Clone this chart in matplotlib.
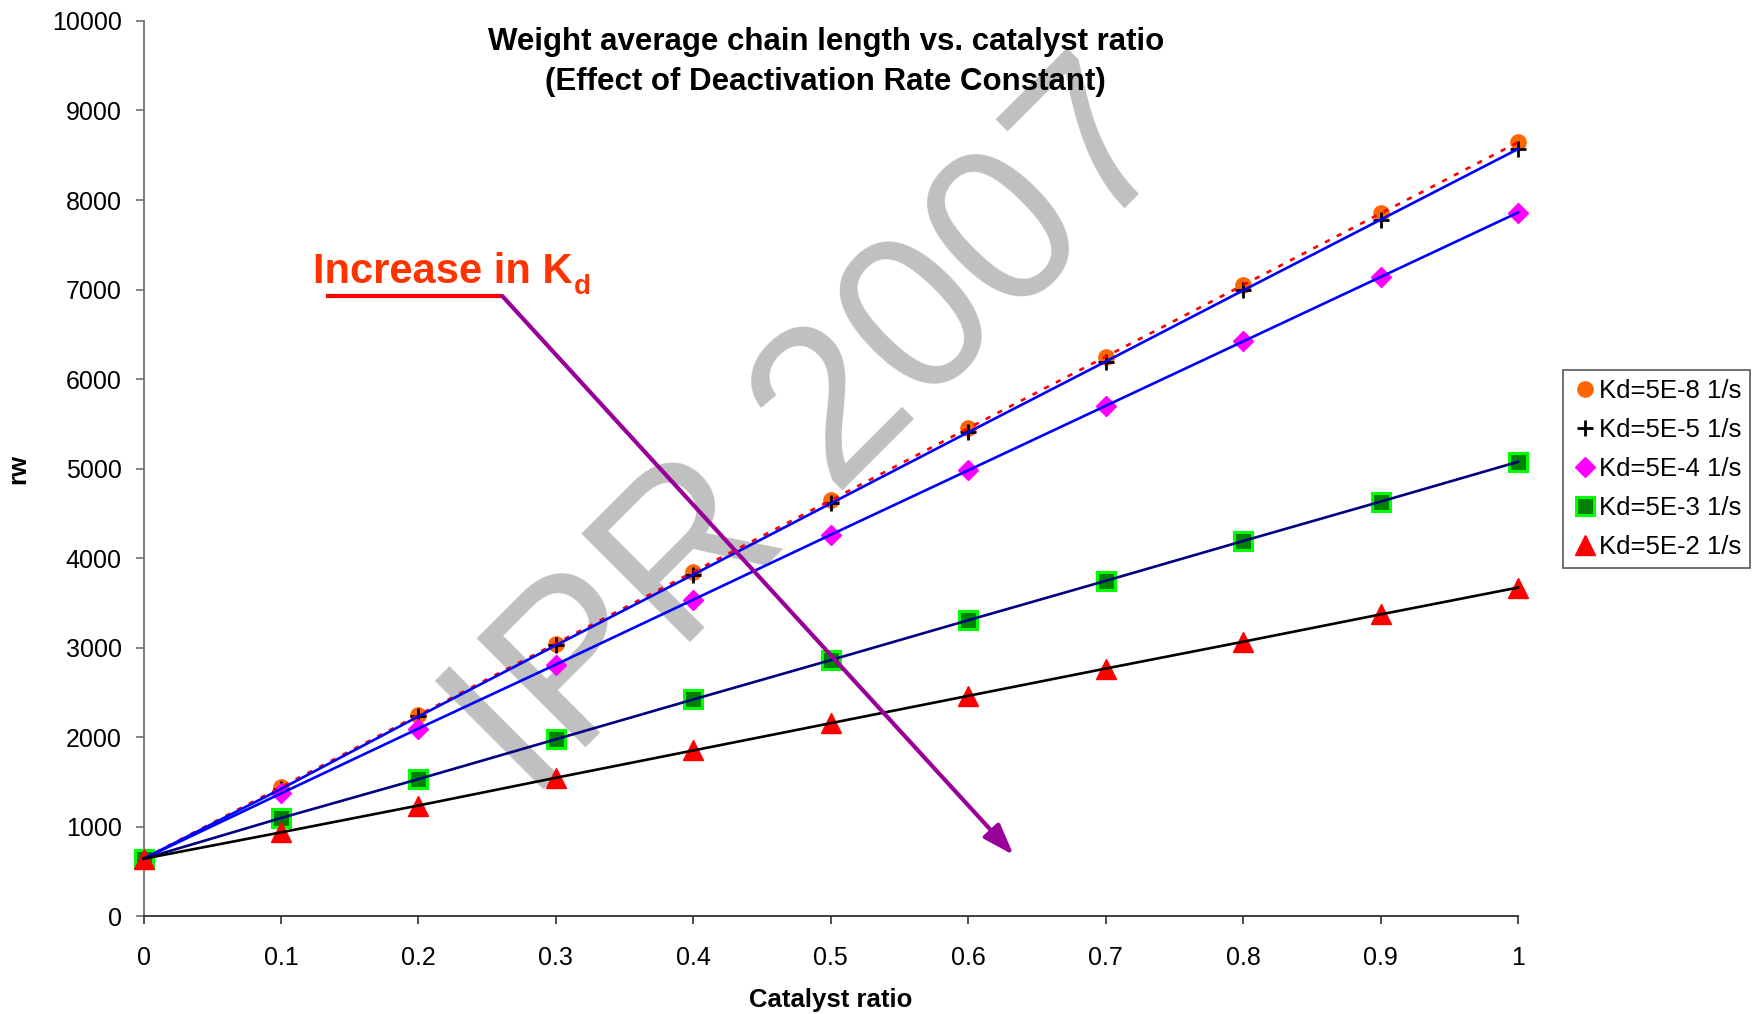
import matplotlib
matplotlib.use("Agg")
import matplotlib.pyplot as plt
from matplotlib.lines import Line2D
from matplotlib.patches import FancyArrowPatch

plt.rcParams["font.family"] = ["Liberation Sans", "DejaVu Sans"]

# Catalyst ratio and weight average chain length for each deactivation constant
catalyst_ratio = [0.0, 0.1, 0.2, 0.3, 0.4, 0.5, 0.6, 0.7, 0.8, 0.9, 1.0]
rw_kd_5e8 = [640, 1440, 2245, 3045, 3845, 4645, 5450, 6250, 7050, 7850, 8645]
rw_kd_5e5 = [640, 1420, 2230, 3025, 3815, 4610, 5405, 6195, 6990, 7780, 8570]
rw_kd_5e4 = [640, 1370, 2095, 2810, 3535, 4260, 4980, 5700, 6420, 7140, 7860]
rw_kd_5e3 = [640, 1095, 1530, 1975, 2420, 2860, 3305, 3745, 4190, 4630, 5075]
rw_kd_5e2 = [640, 935, 1235, 1545, 1850, 2155, 2460, 2765, 3065, 3370, 3670]

series_labels = ["Kd=5E-8 1/s", "Kd=5E-5 1/s", "Kd=5E-4 1/s", "Kd=5E-3 1/s", "Kd=5E-2 1/s"]
x_ticks = [0.0, 0.1, 0.2, 0.3, 0.4, 0.5, 0.6, 0.7, 0.8, 0.9, 1.0]
x_tick_labels = ["0", "0.1", "0.2", "0.3", "0.4", "0.5", "0.6", "0.7", "0.8", "0.9", "1"]
y_ticks = list(range(0, 10001, 1000))

fig = plt.figure(figsize=(17.57, 10.14), dpi=100)
ax = fig.add_axes([0.0817, 0.0966, 0.864 - 0.0817, 0.9793 - 0.0966])

# marker styles and connecting line styles
marker_styles = [
    dict(marker="o", markersize=11, markerfacecolor="#FF6600", markeredgecolor="#FF6600"),
    dict(marker="+", markersize=12, markeredgewidth=2.0, markeredgecolor="black"),
    dict(marker="D", markersize=10, markerfacecolor="#FF00FF", markeredgecolor="#FF00FF"),
    dict(marker="s", markersize=12.5, markerfacecolor="#008000", markeredgecolor="#00FF00",
         markeredgewidth=2.2),
    dict(marker="^", markersize=14, markerfacecolor="#FF0000", markeredgecolor="#FF0000"),
]
line_styles = [
    dict(color="#FF0000", linewidth=1.9, linestyle=(0, (2.0, 3.0))),
    dict(color="#0000FF", linewidth=1.9),
    dict(color="#0000FF", linewidth=1.9),
    dict(color="#000080", linewidth=1.9),
    dict(color="black", linewidth=1.9),
]
all_series = [rw_kd_5e8, rw_kd_5e5, rw_kd_5e4, rw_kd_5e3, rw_kd_5e2]

for i, (vals, ms) in enumerate(zip(all_series, marker_styles)):
    ax.plot(catalyst_ratio, vals, linestyle="None", zorder=3 + i * 0.01, clip_on=False, **ms)
for i, (vals, ls) in enumerate(zip(all_series, line_styles)):
    ax.plot(catalyst_ratio, vals, zorder=4 + i * 0.01, clip_on=False, **ls)

ax.set_xlim(0, 1)
ax.set_ylim(0, 10000)
ax.set_xticks(x_ticks)
ax.set_xticklabels(x_tick_labels)
ax.set_yticks(y_ticks)

for side in ("top", "right"):
    ax.spines[side].set_visible(False)
ax.spines["left"].set_color("#707070")
ax.spines["bottom"].set_color("#303030")
ax.spines["left"].set_linewidth(1.3)
ax.spines["bottom"].set_linewidth(1.3)
ax.tick_params(axis="y", direction="out", length=5.8, width=1.2, color="#707070",
               labelsize=18, pad=10)
ax.tick_params(axis="x", direction="out", length=5.8, width=1.2, color="#303030",
               labelsize=18, pad=16)

ax.set_xlabel("Catalyst ratio", fontsize=18.5, fontweight="bold")
ax.xaxis.set_label_coords(0.5, -0.080)
ax.set_ylabel("rw", fontsize=18.5, fontweight="bold")
ax.yaxis.set_label_coords(-0.0826, 0.5)

fig.text(0.470, 1 - 62 / 1014,
         "Weight average chain length vs. catalyst ratio\n(Effect of Deactivation Rate Constant)",
         ha="center", va="center", fontsize=22.5, fontweight="bold", linespacing=1.42)

# diagonal watermark behind the data
ax.text(0.488, 0.530, "IPR 2007", transform=fig.transFigure, fontsize=160,
        color="#C0C0C0", rotation=45, rotation_mode="anchor", ha="center",
        va="baseline", zorder=0.5, clip_on=False)

# "Increase in Kd" annotation with underline and arrow
main_txt = ax.text(0.123, 7073, "Increase in K", fontsize=30, fontweight="bold",
                   color="#FF3300", ha="left", va="baseline", zorder=6)
ax.annotate("d", xy=(1, 0), xycoords=main_txt, xytext=(1, -1.5),
            textcoords="offset points", fontsize=20, fontweight="bold",
            color="#FF3300", ha="left", va="baseline", zorder=6)
ax.plot([0.133, 0.261], [6927, 6927], color="#FF0000", linewidth=3.0,
        solid_capstyle="butt", zorder=6)
arrow = FancyArrowPatch((0.261, 6927), (0.633, 682),
                        arrowstyle="-|>,head_length=0.95,head_width=0.33",
                        mutation_scale=20, color="#990099", linewidth=3.0,
                        shrinkA=0, shrinkB=0, zorder=6)
ax.add_patch(arrow)

# legend with marker-only entries
handles = [Line2D([], [], linestyle="None", **ms) for ms in marker_styles]
leg = fig.legend(handles, series_labels, loc="upper left",
                 bbox_to_anchor=(0.8896, 0.6351), bbox_transform=fig.transFigure,
                 fontsize=18.5, frameon=True, fancybox=False, borderaxespad=0,
                 borderpad=0.35, labelspacing=0.58, handlelength=1.0,
                 handletextpad=0.05, numpoints=1)
leg.get_frame().set_edgecolor("#404040")
leg.get_frame().set_linewidth(1.3)

fig.savefig("out.png", dpi=100)
